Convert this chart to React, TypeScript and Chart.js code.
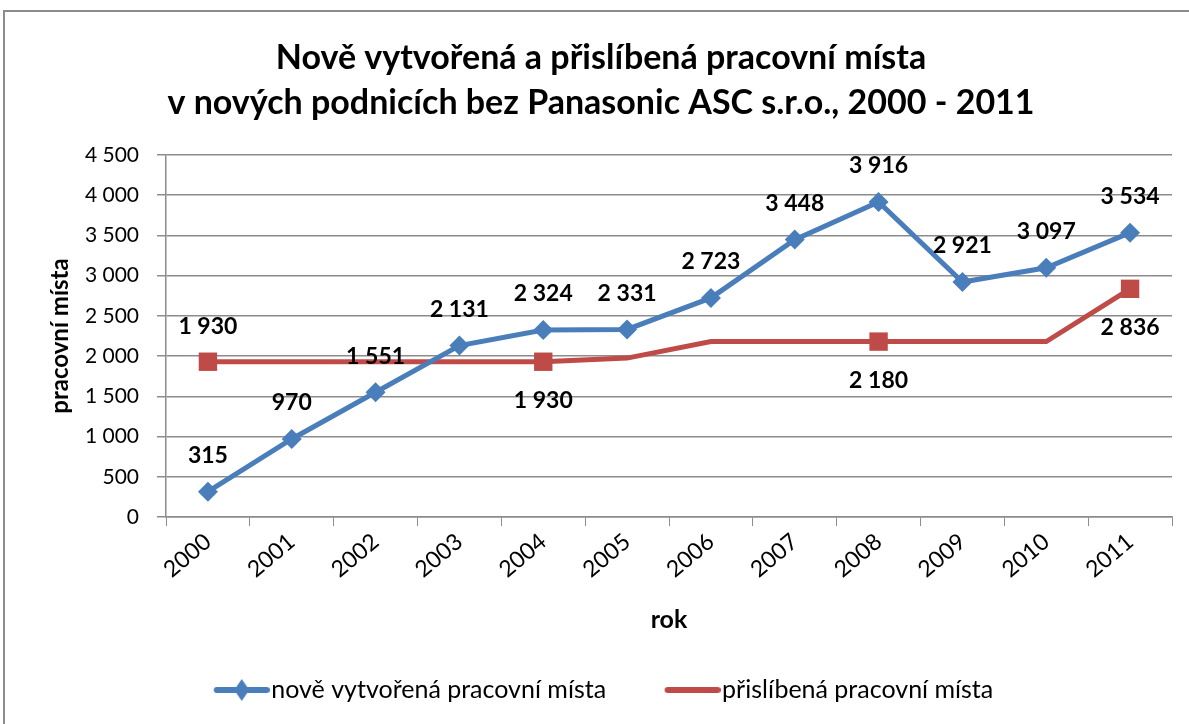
import React, { useEffect, useRef } from 'react';
import { Chart, registerables } from 'chart.js';

Chart.register(...registerables);

const years = ['2000', '2001', '2002', '2003', '2004', '2005', '2006', '2007', '2008', '2009', '2010', '2011'];
const newJobs = [315, 970, 1551, 2131, 2324, 2331, 2723, 3448, 3916, 2921, 3097, 3534];
const promisedJobs = [1930, 1930, 1930, 1930, 1930, 1975, 2180, 2180, 2180, 2180, 2180, 2836];
const promisedMarked = [true, false, false, false, true, false, false, false, true, false, false, true];
const titleLines = ['Nově vytvořená a přislíbená pracovní místa', 'v nových podnicích bez Panasonic ASC s.r.o., 2000 - 2011'];
const seriesNames = ['nově vytvořená pracovní místa', 'přislíbená pracovní místa'];
const yAxisTitle = 'pracovní místa';
const xAxisTitle = 'rok';
const yMin = 0;
const yMax = 4500;
const yStep = 500;

const BLUE = '#4A7EBB';
const RED = '#BE4B48';
const GRID = '#8C8C8C';
const FONT = 'Lato, "Open Sans", sans-serif';

const fmt = (v: number) => String(v).replace(/\B(?=(\d{3})+(?!\d))/g, ' ');

function legendIcon(color: string, diamond: boolean): HTMLCanvasElement {
  const c = document.createElement('canvas');
  c.width = 72;
  c.height = 26;
  const ctx = c.getContext('2d')!;
  ctx.strokeStyle = color;
  ctx.lineWidth = 6;
  ctx.lineCap = 'round';
  ctx.beginPath();
  ctx.moveTo(19, 13);
  ctx.lineTo(69, 13);
  ctx.stroke();
  if (diamond) {
    ctx.fillStyle = color;
    ctx.beginPath();
    ctx.moveTo(44, 2);
    ctx.lineTo(51.5, 13);
    ctx.lineTo(44, 24);
    ctx.lineTo(36.5, 13);
    ctx.closePath();
    ctx.fill();
  }
  return c;
}

const dataLabels = {
  id: 'dataLabels',
  afterDatasetsDraw(chart: any) {
    const ctx = chart.ctx;
    ctx.save();
    ctx.font = `bold 23px ${FONT}`;
    ctx.fillStyle = '#000';
    ctx.textAlign = 'center';
    ctx.textBaseline = 'middle';
    const m0 = chart.getDatasetMeta(0);
    m0.data.forEach((p: any, i: number) => {
      ctx.fillText(fmt(newJobs[i]), p.x, p.y - 36);
    });
    const m1 = chart.getDatasetMeta(1);
    m1.data.forEach((p: any, i: number) => {
      if (!promisedMarked[i]) return;
      const dy = i === 0 ? -35 : 39;
      ctx.fillText(fmt(promisedJobs[i]), p.x, p.y + dy);
    });
    ctx.restore();
  },
};

export default function App() {
  const ref = useRef<HTMLCanvasElement | null>(null);
  useEffect(() => {
    if (!ref.current) return;
    const icons = [legendIcon(BLUE, true), legendIcon(RED, false)];
    const chart = new Chart(ref.current, {
      type: 'line',
      data: {
        labels: years,
        datasets: [
          {
            label: seriesNames[0],
            data: newJobs,
            borderColor: BLUE,
            backgroundColor: BLUE,
            borderWidth: 5,
            pointStyle: 'rectRot',
            pointRadius: 10,
            pointBorderWidth: 0,
            tension: 0,
          },
          {
            label: seriesNames[1],
            data: promisedJobs,
            borderColor: RED,
            backgroundColor: RED,
            borderWidth: 5,
            pointStyle: 'rect',
            pointRadius: promisedMarked.map((m) => (m ? 13 : 0)),
            pointBorderWidth: 0,
            tension: 0,
          },
        ],
      },
      options: {
        responsive: false,
        animation: false,
        layout: { padding: { left: 30, right: 17, top: 0, bottom: 11.5 } },
        plugins: {
          tooltip: { enabled: false },
          title: {
            display: true,
            text: titleLines,
            color: '#000',
            font: { family: FONT, size: 34, weight: 'bold', lineHeight: 1.32 },
            padding: { top: 36, bottom: 29.2 },
          },
          legend: {
            position: 'bottom',
            labels: {
              color: '#000',
              font: { family: FONT, size: 25 },
              usePointStyle: true,
              pointStyleWidth: 50,
              boxHeight: 25,
              padding: 53.5,
              generateLabels: (ch: any) =>
                ch.data.datasets.map((ds: any, i: number) => ({
                  text: ds.label,
                  pointStyle: icons[i],
                  fillStyle: ds.borderColor,
                  strokeStyle: ds.borderColor,
                  lineWidth: 0,
                  datasetIndex: i,
                  hidden: false,
                })),
            },
          },
        },
        scales: {
          x: {
            type: 'category',
            offset: true,
            grid: { display: true, drawOnChartArea: false, drawTicks: true, tickLength: 9, color: GRID, offset: true },
            border: { color: GRID, width: 1.5 },
            ticks: { color: '#000', font: { family: FONT, size: 23 }, minRotation: 40, maxRotation: 40, padding: 2 },
            title: { display: true, text: xAxisTitle, color: '#000', font: { family: FONT, size: 25, weight: 'bold' }, padding: { top: 10, bottom: -11 } },
            afterFit: (s: any) => {
              s.height = 107;
            },
          },
          y: {
            min: yMin,
            max: yMax,
            ticks: { stepSize: yStep, color: '#000', font: { family: FONT, size: 21 }, padding: 18, callback: (v: any) => fmt(Number(v)) },
            grid: { color: GRID, lineWidth: 1.5, tickLength: 9 },
            border: { color: GRID, width: 1.5 },
            title: { display: true, text: yAxisTitle, color: '#000', font: { family: FONT, size: 24, weight: 'bold' }, padding: { top: 15.6, bottom: 0 } },
            afterFit: (s: any) => {
              s.width = 136;
            },
          },
        },
      },
      plugins: [dataLabels],
    });
    return () => chart.destroy();
  }, []);

  return (
    <div style={{ position: 'fixed', left: 0, top: 0, width: 1189, height: 724, background: '#fff', overflow: 'hidden' }}>
      <div style={{ position: 'absolute', left: 3, top: 10, width: 1220, height: 760, border: '2px solid #8C8C8C', boxSizing: 'border-box' }} />
      <canvas ref={ref} width={1189} height={724} style={{ position: 'absolute', left: 0, top: 0, width: 1189, height: 724 }} />
    </div>
  );
}
